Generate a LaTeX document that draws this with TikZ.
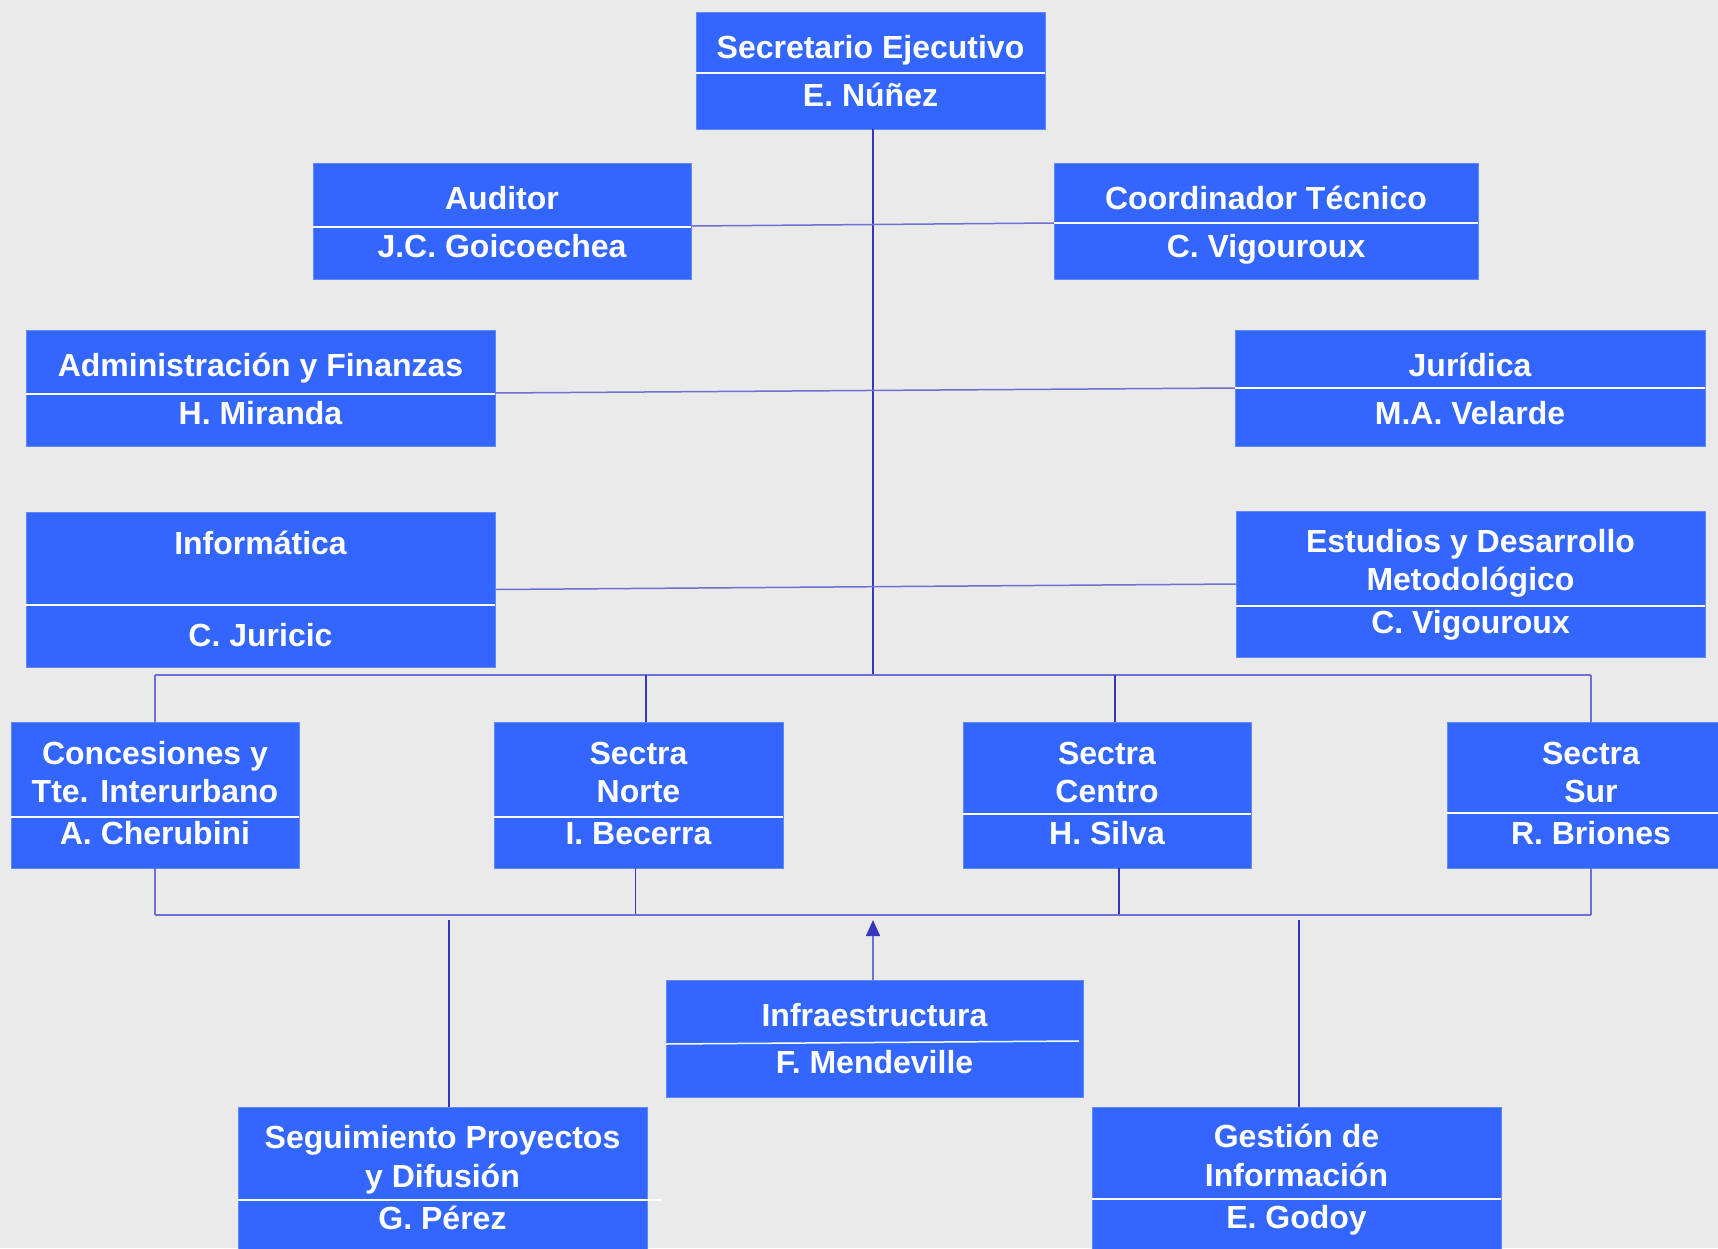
\documentclass[tikz,border=0pt]{standalone}
\usepackage{fontspec}
\setmainfont{Liberation Sans}
\usetikzlibrary{arrows.meta}
\definecolor{bg}{RGB}{234,234,234}
\definecolor{boxfill}{RGB}{51,102,255}
\definecolor{boxedge}{RGB}{100,135,250}
\definecolor{darkln}{RGB}{55,55,190}
\definecolor{lightln}{RGB}{112,112,212}
\tikzset{
  orgbox/.style={rectangle, fill=boxfill, draw=boxedge, line width=1pt, inner sep=0pt, outer sep=0pt},
  lbl/.style={anchor=base, text=white, inner sep=0pt, font=\fontsize{32}{38}\selectfont\bfseries},
  divline/.style={draw=white, line width=1.5pt},
  vconn/.style={draw=darkln, line width=1.5pt},
  hconn/.style={draw=lightln, line width=1.5pt},
}
\begin{document}
\begin{tikzpicture}[x=1pt,y=-1pt]
\fill[bg] (0,0) rectangle (1718,1248);
\useasboundingbox (0,0) rectangle (1718,1248);
\clip (0,0) rectangle (1718,1248);

% reference coordinates
\coordinate (tb) at (873,675);
\coordinate (bb) at (873,915);
\coordinate (arr) at (873,920);
\coordinate (sv) at (449,920);
\coordinate (gv) at (1299,920);

% boxes
\node[orgbox, minimum width=349pt, minimum height=117pt] (sec) at (870.5,70.5) {};
\node[orgbox, minimum width=378pt, minimum height=116pt] (aud) at (502,221) {};
\node[orgbox, minimum width=424pt, minimum height=116pt] (coo) at (1266,221) {};
\node[orgbox, minimum width=469pt, minimum height=116pt] (adm) at (260.5,388) {};
\node[orgbox, minimum width=470pt, minimum height=116pt] (jur) at (1470,388) {};
\node[orgbox, minimum width=469pt, minimum height=155pt] (inf) at (260.5,589.5) {};
\node[orgbox, minimum width=469pt, minimum height=146pt] (est) at (1470.5,584) {};
\node[orgbox, minimum width=288pt, minimum height=146pt] (con) at (155,795) {};
\node[orgbox, minimum width=289pt, minimum height=146pt] (nor) at (638.5,795) {};
\node[orgbox, minimum width=288pt, minimum height=146pt] (cen) at (1107,795) {};
\node[orgbox, minimum width=288pt, minimum height=146pt] (sur) at (1591,795) {};
\node[orgbox, minimum width=417pt, minimum height=117pt] (infra) at (874.5,1038.5) {};
\node[orgbox, minimum width=409pt, minimum height=153pt] (seg) at (442.5,1183.5) {};
\node[orgbox, minimum width=409pt, minimum height=153pt] (ges) at (1296.5,1183.5) {};

% dividers
\draw[divline] (sec.west |- 0,73) -- (sec.east |- 0,73);
\draw[divline] (aud.west |- 0,227) -- (aud.east |- 0,227);
\draw[divline] (coo.west |- 0,223) -- (coo.east |- 0,223);
\draw[divline] (adm.west |- 0,394) -- (adm.east |- 0,394);
\draw[divline] (jur.west |- 0,388) -- (jur.east |- 0,388);
\draw[divline] (inf.west |- 0,605) -- (inf.east |- 0,605);
\draw[divline] (est.west |- 0,606) -- (est.east |- 0,606);
\draw[divline] (con.west |- 0,817) -- (con.east |- 0,817);
\draw[divline] (nor.west |- 0,817) -- (nor.east |- 0,817);
\draw[divline] (cen.west |- 0,814) -- (cen.east |- 0,814);
\draw[divline] (sur.west |- 0,813) -- (sur.east |- 0,813);
\draw[divline] (infra.west |- 0,1044) -- ([xshift=-4pt]infra.east |- 0,1041);
\draw[divline] (seg.west |- 0,1200) -- ([xshift=15pt]seg.east |- 0,1200);
\draw[divline] (ges.west |- 0,1199) -- (ges.east |- 0,1199);

% connectors
\draw[vconn] (sec.south -| tb) -- (tb);
\draw[hconn] ([yshift=-5pt]aud.east) -- ([yshift=-2pt]coo.west);
\draw[hconn] ([yshift=-5pt]adm.east) -- (jur.west);
\draw[hconn] (inf.east) -- (est.west);
\draw[hconn] (con.north |- tb) -- (sur.north |- tb);
\draw[hconn] (con.north) -- (con.north |- tb);
\draw[vconn] ([xshift=7.5pt]nor.north) -- ([xshift=7.5pt]nor.north |- tb);
\draw[vconn] ([xshift=8pt]cen.north) -- ([xshift=8pt]cen.north |- tb);
\draw[hconn] (sur.north) -- (sur.north |- tb);
\draw[hconn] (con.south) -- (con.south |- bb);
\draw[vconn] ([xshift=-3pt]nor.south) -- ([xshift=-3pt]nor.south |- bb);
\draw[vconn] ([xshift=12pt]cen.south) -- ([xshift=12pt]cen.south |- bb);
\draw[hconn] (sur.south) -- (sur.south |- bb);
\draw[hconn] (con.south |- bb) -- (sur.south |- bb);
\draw[hconn, -{Triangle[width=14pt,length=16pt,color=darkln]}] (infra.north -| arr) -- (arr);
\draw[vconn] (sv) -- (sv |- seg.north);
\draw[vconn] (gv) -- (gv |- ges.north);

% texts
\node[lbl] (t1) at (870.5,58) {Secretario Ejecutivo};
\node[lbl] (t2) at (870.5,106) {E. Núñez};
\node[lbl] (t3) at (502,209) {Auditor};
\node[lbl] (t4) at (502,257) {J.C. Goicoechea};
\node[lbl] (t5) at (1266,209) {Coordinador Técnico};
\node[lbl] (t6) at (1266,257) {C. Vigouroux};
\node[lbl] (t7) at (260.5,376) {Administración y Finanzas};
\node[lbl] (t8) at (260.5,424) {H. Miranda};
\node[lbl] (t9) at (1470,376) {Jurídica};
\node[lbl] (t10) at (1470,424) {M.A. Velarde};
\node[lbl] (t11) at (260.5,554) {Informática};
\node[lbl] (t12) at (260.5,646) {C. Juricic};
\node[lbl] (t13) at (1470.5,552) {Estudios y Desarrollo};
\node[lbl] (t14) at (1470.5,590) {Metodológico};
\node[lbl] (t15) at (1470.5,633) {C. Vigouroux};
\node[lbl] (t16) at (155,764) {Concesiones y};
\node[lbl] (t17) at (155,802) {Tte. Interurbano};
\node[lbl] (t18) at (155,844) {A. Cherubini};
\node[lbl] (t19) at (638.5,764) {Sectra};
\node[lbl] (t20) at (638.5,802) {Norte};
\node[lbl] (t21) at (638.5,844) {I. Becerra};
\node[lbl] (t22) at (1107,764) {Sectra};
\node[lbl] (t23) at (1107,802) {Centro};
\node[lbl] (t24) at (1107,844) {H. Silva};
\node[lbl] (t25) at (1591,764) {Sectra};
\node[lbl] (t26) at (1591,802) {Sur};
\node[lbl] (t27) at (1591,844) {R. Briones};
\node[lbl] (t28) at (874.5,1026) {Infraestructura};
\node[lbl] (t29) at (874.5,1073) {F. Mendeville};
\node[lbl] (t30) at (442.5,1148) {Seguimiento Proyectos};
\node[lbl] (t31) at (442.5,1187) {y Difusión};
\node[lbl] (t32) at (442.5,1229) {G. Pérez};
\node[lbl] (t33) at (1296.5,1147) {Gestión de};
\node[lbl] (t34) at (1296.5,1186) {Información};
\node[lbl] (t35) at (1296.5,1228) {E. Godoy};
\end{tikzpicture}
\end{document}
